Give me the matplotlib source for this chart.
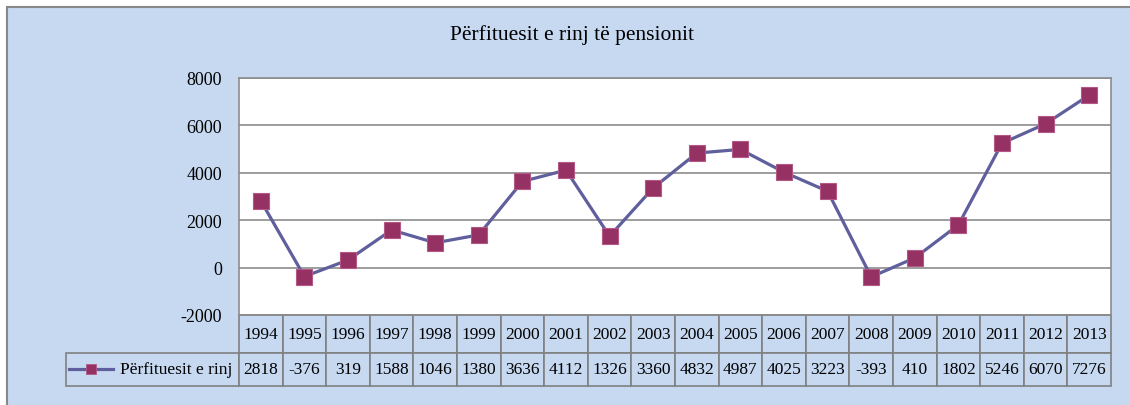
import matplotlib
matplotlib.use('Agg')
import matplotlib.pyplot as plt
from matplotlib.lines import Line2D
from matplotlib.patches import Rectangle

# data
years = [1994, 1995, 1996, 1997, 1998, 1999, 2000, 2001, 2002, 2003,
         2004, 2005, 2006, 2007, 2008, 2009, 2010, 2011, 2012, 2013]
values = [2818, -376, 319, 1588, 1046, 1380, 3636, 4112, 1326, 3360,
          4832, 4987, 4025, 3223, -393, 410, 1802, 5246, 6070, 7276]
series_name = "Përfituesit e rinj"
title = "Përfituesit e rinj të pensionit"
yticks = [-2000, 0, 2000, 4000, 6000, 8000]

panel = '#C6D9F1'
grid = '#8C8C8C'
line_col = '#5F5F9E'
marker_col = '#953163'

plt.rcParams['font.family'] = ['Liberation Serif', 'DejaVu Serif']

W, H = 1130, 406
fig = plt.figure(figsize=(W / 100, H / 100), dpi=100)
fig.patch.set_facecolor('white')

# blue chart panel with grey border
fig.add_artist(Rectangle((7 / W, -0.05), 1.1, (H - 8) / H + 0.05,
                         transform=fig.transFigure, facecolor=panel,
                         edgecolor='#888888', linewidth=1.5, zorder=0))

left, right, top, bottom = 239, 1111, 79, 316
ax = fig.add_axes([left / W, (H - bottom) / H, (right - left) / W, (bottom - top) / H])
ax.set_facecolor('white')

x = list(range(len(years)))
ax.plot(x, values, color=line_col, linewidth=2.3, marker='s', markersize=11,
        markerfacecolor=marker_col, markeredgecolor='#B25A85', markeredgewidth=0.8,
        zorder=3, clip_on=False)

ax.set_xlim(-0.5, len(years) - 0.5)
ax.set_ylim(-2000, 8000)
ax.set_yticks(yticks)
ax.set_yticklabels([str(v) for v in yticks], fontsize=13)
ax.set_xticks([])
ax.tick_params(axis='y', length=0, pad=12)
ax.yaxis.grid(True, color=grid, linewidth=1.2)
ax.set_axisbelow(True)
for s in ax.spines.values():
    s.set_color(grid)
    s.set_linewidth(1.2)

fig.text(572 / W, (H - 35) / H, title, ha='center', va='center', fontsize=15.5)

# data table under the plot (sizes in axes fractions)
pw, ph = right - left, bottom - top
cw = 1 / len(years)
lw_ = (left - 66) / pw
h0, h1 = (354 - bottom) / ph, (387 - 354) / ph
# bbox covers only the data cells; the row label column hangs off to the left
tbl = ax.table(cellText=[[str(v) for v in values]], rowLabels=[series_name],
               colLabels=[str(y) for y in years], cellLoc='center', rowLoc='right',
               colLoc='center', colWidths=[cw] * len(years),
               bbox=[0, -(h0 + h1), 1, h0 + h1])
tbl.auto_set_font_size(False)
tbl.set_fontsize(12.5)
tbl._autoColumns = []
for (r, c), cell in tbl.get_celld().items():
    cell.set_facecolor(panel)
    cell.set_edgecolor('#808080')
    cell.set_linewidth(1.2)
    cell.set_height(h0 if r == 0 else h1)
    if c == -1:
        cell.set_width(lw_)
        cell.PAD = 0.04

# legend key inside the row label cell
key = Line2D([], [], color=line_col, linewidth=2.3, marker='s', markersize=7,
             markerfacecolor=marker_col, markeredgecolor='#B25A85', markeredgewidth=0.6)
fig.legend(handles=[key], labels=[''], loc='center left',
           bbox_to_anchor=(69 / W, (H - 371) / H), frameon=False,
           borderpad=0, borderaxespad=0, handlelength=3.5, handletextpad=0,
           fontsize=9)

fig.savefig('out.png', dpi=100, facecolor=fig.get_facecolor())
